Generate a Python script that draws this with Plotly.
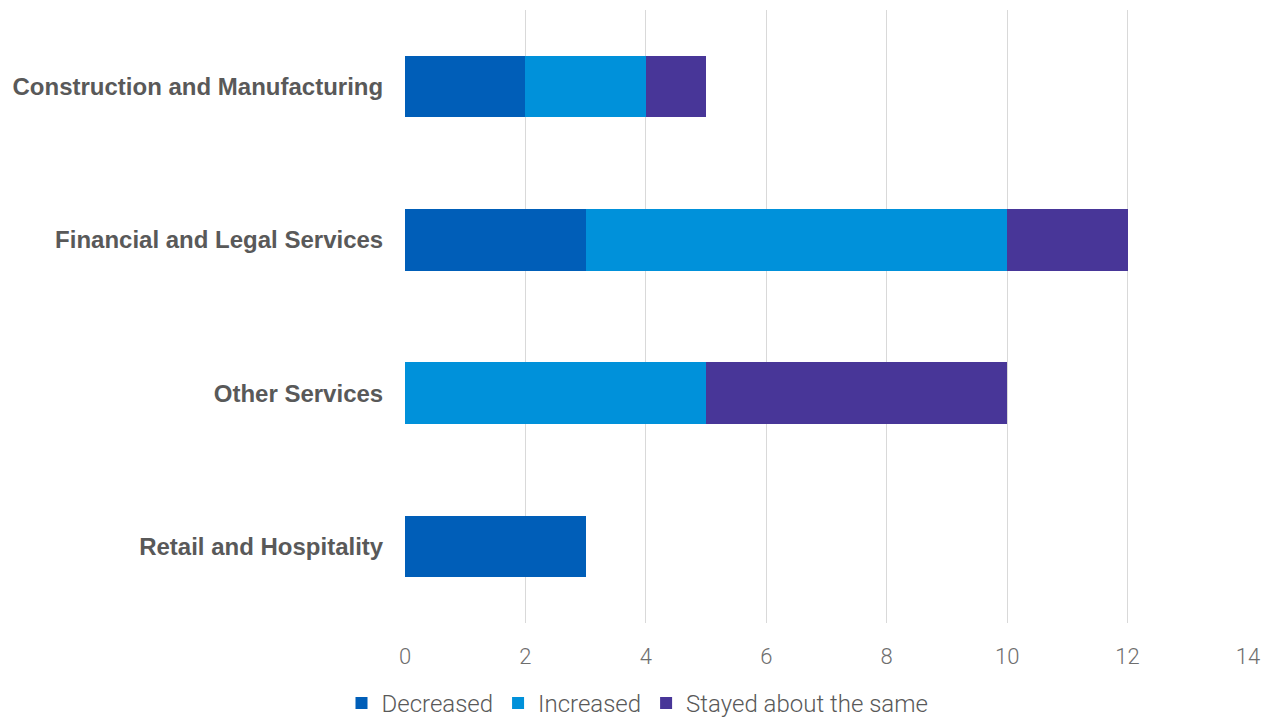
import plotly.graph_objects as go

categories = ["Construction and Manufacturing", "Financial and Legal Services",
              "Other Services", "Retail and Hospitality"]
decreased = [2, 3, 0, 3]
increased = [2, 7, 5, 0]
stayed = [1, 2, 5, 0]

series = [
    ("Decreased", decreased, "#005EB8"),
    ("Increased", increased, "#0091DA"),
    ("Stayed about the same", stayed, "#483698"),
]

fig = go.Figure()
for name, vals, color in series:
    fig.add_trace(go.Bar(
        y=categories, x=vals, name=name, orientation="h",
        marker=dict(color=color, line=dict(width=0)),
    ))

fig.update_layout(
    barmode="stack",
    bargap=0.6,
    width=1275, height=719,
    margin=dict(l=405, r=27, t=10, b=96, autoexpand=False),
    plot_bgcolor="white", paper_bgcolor="white",
    font=dict(family="Roboto", color="#595959"),
    xaxis=dict(
        range=[0, 14], dtick=2, showgrid=True, gridcolor="#d9d9d9", gridwidth=1,
        zeroline=False, showline=False, automargin=False,
        tickfont=dict(size=22, color="#6e6e6e", family="Roboto", weight=300),
        ticks="outside", ticklen=14, tickcolor="white",
    ),
    yaxis=dict(
        autorange="reversed", showgrid=False, showline=False, automargin=False,
        tickfont=dict(size=24, family="Liberation Sans", color="#595959", weight="bold"),
        ticks="outside", ticklen=16, tickcolor="white",
    ),
    legend=dict(
        orientation="h", xref="container", yref="paper",
        x=0.5, xanchor="center", y=-0.131, yanchor="middle",
        font=dict(size=24, color="#595959", family="Roboto", weight=300),
        traceorder="normal", itemwidth=30,
    ),
)

fig.write_html("out.html")
